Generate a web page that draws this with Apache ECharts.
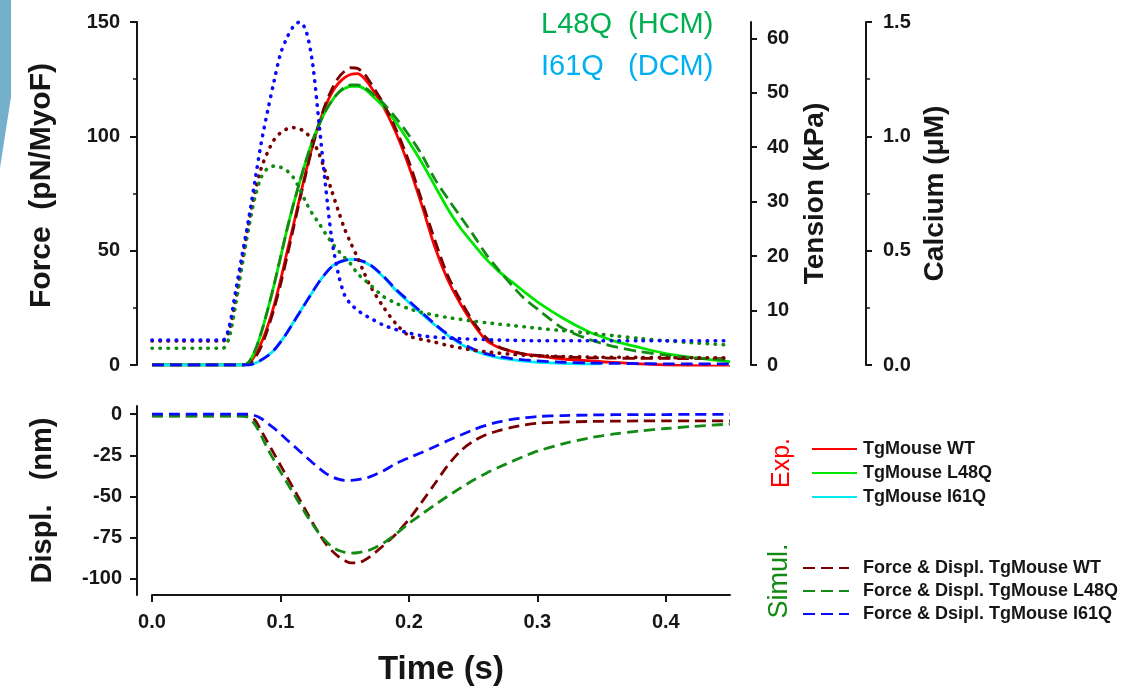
<!DOCTYPE html>
<html><head><meta charset="utf-8">
<script src="https://cdn.jsdelivr.net/npm/echarts@6/dist/echarts.min.js"></script>
<style>html,body{margin:0;padding:0;background:#fff}#c{width:1137px;height:692px}</style>
</head><body><div id="c"></div>
<script>
// ---- data ----
const time = [0,0.02,0.04,0.055,0.06,0.065,0.07,0.075,0.08,0.085,0.09,0.095,0.1,0.105,0.11,0.115,0.12,0.125,0.13,0.135,0.14,0.145,0.15,0.155,0.16,0.165,0.17,0.18,0.19,0.2,0.21,0.22,0.23,0.24,0.25,0.26,0.27,0.28,0.29,0.3,0.32,0.34,0.35,0.36,0.38,0.4,0.42,0.45];

// experimental tension (kPa)
const tensionWT = [0,0,0,0,0,0,0,0.2,1.7,4.0,7.1,10.9,15.5,20.6,25.6,30.7,35.7,40.3,44.3,47.5,50.0,51.7,52.8,53.4,53.5,52.7,51.2,47.5,42.6,36.5,29.4,21.8,15.8,11.3,7.6,4.6,3.2,2.5,2.0,1.7,1.1,0.8,0.6,0.5,0.2,0,-0.1,-0.3];
const tensionL48Q = [0,0,0,0,0,0,0,0.4,2.5,5.9,10.1,14.7,19.7,24.8,29.4,33.6,37.6,41.2,44.1,46.6,48.5,50.0,50.8,51.2,51.2,50.8,49.8,47.5,44.5,41.0,37.2,33.0,28.8,25.2,22.3,19.5,17.2,15.3,13.4,11.6,8.6,6.1,5.2,4.4,3.2,2.1,1.4,0.6];
const tensionI61Q = [0,0,0,0,0,0,0,0,0.3,0.9,1.7,2.7,4.2,5.9,7.8,9.7,11.6,13.4,15.2,16.8,18.1,18.8,19.2,19.4,19.3,18.9,18.3,16.2,13.7,11.5,9.4,7.4,5.5,3.9,2.7,1.9,1.3,1.0,0.7,0.5,0.3,0.2,0.2,null,null,null,null,null];

// simulated force (pN/MyoF)
const forceWT = [0,0,0,0,0,0,0,0.3,3,8,15.5,24.5,35,47,59.5,72,84,95.5,105.5,114,120.5,125.5,128.5,130,129.7,127.5,123.5,114.5,103,89,72,55,39.5,28.5,19,12,8,6,4.8,4.2,3.5,3.2,3.1,3,2.9,2.9,2.8,2.8];
const forceL48Q = [0,0,0,0,0,0,0,1,6,14,24,35,47,59,70,80,89.5,98,105,111,115.5,119,121.5,122.5,122.5,121.5,119.5,114.5,108,100.5,92,81.5,73,65,57,48.5,41.5,35,29,24.5,16,11.3,9.5,8,5.8,4.3,3.2,2.2];
const forceI61Q = [0,0,0,0,0,0,0,0,0.7,2.2,4,6.5,10,14,18.5,23,27.5,32,36.3,40,43,44.8,45.8,46.2,46,45.2,43.8,39,33,28,23,18,13.5,9.8,7,5,3.7,2.8,2.2,1.8,1.2,0.9,0.8,0.7,0.6,0.5,0.5,0.5];

// calcium transients (uM)
const calciumWT = [0.105,0.105,0.105,0.105,0.15,0.28,0.45,0.61,0.75,0.86,0.93,0.985,1.015,1.032,1.038,1.032,1.015,0.98,0.925,0.845,0.76,0.675,0.595,0.53,0.47,0.405,0.345,0.255,0.18,0.128,0.112,0.1,0.086,0.075,0.065,0.058,0.052,0.047,0.043,0.04,0.037,0.035,0.034,0.034,0.033,0.032,0.032,0.031];
const calciumL48Q = [0.073,0.073,0.073,0.073,0.12,0.26,0.43,0.59,0.73,0.82,0.86,0.87,0.865,0.85,0.82,0.77,0.71,0.66,0.62,0.575,0.535,0.5,0.47,0.44,0.4,0.375,0.35,0.3,0.27,0.246,0.23,0.218,0.208,0.2,0.192,0.185,0.179,0.173,0.167,0.161,0.15,0.14,0.134,0.128,0.116,0.106,0.098,0.087];
const calciumI61Q = [0.109,0.109,0.109,0.109,0.166,0.32,0.476,0.63,0.8,0.97,1.11,1.24,1.36,1.43,1.48,1.5,1.46,1.32,1.06,0.79,0.55,0.4,0.305,0.265,0.24,0.22,0.205,0.175,0.155,0.14,0.128,0.122,0.118,0.115,0.113,0.111,0.109,0.108,0.107,0.106,0.106,0.106,0.106,0.106,0.106,0.106,0.106,0.106];

// simulated displacement (nm)
const displWT = [-1,-1,-1,-1,-1,-1,-1,-1.2,-3.5,-10,-17,-24,-31,-38,-45,-52,-59,-66,-72.5,-78.5,-83,-86.5,-89,-90.5,-90.5,-89,-86.5,-80,-72.8,-64,-53.5,-42.5,-31.5,-22.5,-16.5,-12.5,-10,-8,-6.5,-5.5,-4.8,-4.4,-4.3,-4.2,-4.1,-4,-4,-4];
const displL48Q = [-1.2,-1.2,-1.2,-1.2,-1.2,-1.2,-1.2,-2,-6,-13,-21,-28,-35,-41.5,-48,-54.5,-61,-67,-72.5,-77,-80.5,-82.8,-84,-84.5,-84.3,-83.5,-82.5,-78.5,-72.8,-66.5,-60.8,-55.3,-50,-45,-40.2,-36,-32.3,-28.8,-25.5,-22.5,-18,-14.5,-13.2,-12,-10.2,-8.7,-7.5,-6];
const displI61Q = [0,0,0,0,0,0,0,0,-0.8,-2.6,-5.5,-8.5,-12,-15.5,-19,-22.5,-26,-29.5,-32.8,-35.8,-38,-39.5,-40.2,-40.2,-39.8,-39,-38,-34.5,-30,-26.5,-23.3,-19.8,-16.2,-12.8,-9.5,-6.8,-4.7,-3.2,-2.2,-1.4,-0.8,-0.5,-0.4,-0.3,-0.2,-0.2,-0.1,-0.1];

// tick labels
const forceTicks = [0,50,100,150];
const tensionTicks = [0,10,20,30,40,50,60];
const calciumTicks = [0,0.5,1.0,1.5];
const displTicks = [-100,-75,-50,-25,0];
const timeTicks = [0,0.1,0.2,0.3,0.4];

const expNames = ['TgMouse WT','TgMouse L48Q','TgMouse I61Q'];
const simNames = ['Force & Displ. TgMouse WT','Force & Displ. TgMouse L48Q','Force & Dsipl. TgMouse I61Q'];

// ---- chart ----
const FONT = "'Liberation Sans', Arial, sans-serif";
const INK = '#161616';
const lbl = (extra) => Object.assign({color:INK, fontSize:20, fontWeight:'bold', fontFamily:FONT}, extra||{});
const nameStyle = (size, extra) => Object.assign({color:INK, fontSize:size, fontWeight:'bold', fontFamily:FONT}, extra||{});
const aLine = {show:true, onZero:false, lineStyle:{color:INK, width:2}};
const tick = (extra) => Object.assign({show:true, length:7, lineStyle:{color:INK, width:2}}, extra||{});

function ser(name, vals, xi, yi, color, kind, z) {
  const type = kind === 'solid' ? 'solid' : (kind === 'dash' ? [12, 6] : (kind === 'dash2' ? [11, 6] : [0.5, 7.5]));
  return {
    type:'line', name, xAxisIndex:xi, yAxisIndex:yi,
    data: time.map((t, i) => [t, vals[i]]),
    symbol:'none', smooth:0.3, z,
    lineStyle:{color, width: kind === 'dot' ? 3.6 : 2.8, type, cap: kind === 'dot' ? 'round' : 'butt'},
    itemStyle:{color}, emphasis:{disabled:true}
  };
}

const C = {red:'#ff0000', lime:'#00e600', cyan:'#00eaf5', dred:'#7a0000', dgreen:'#138a13', blue:'#0a0aff'};

const option = {
  animation:false,
  backgroundColor:'#ffffff',
  grid:[
    {left:152, top:22, width:578, height:343},
    {left:152, top:406, width:578, height:189}
  ],
  xAxis:[
    {type:'value', gridIndex:0, min:0, max:0.45, show:false},
    {type:'value', gridIndex:1, min:0, max:0.45,
     axisLine:aLine, splitLine:{show:false},
     axisTick:tick({customValues:timeTicks, length:7}),
     axisLabel:lbl({customValues:timeTicks, margin:17, formatter:v => v.toFixed(1)}),
     name:'Time (s)', nameLocation:'middle', nameGap:58, nameTextStyle:nameStyle(33)}
  ],
  yAxis:[
    {type:'value', gridIndex:0, position:'left', offset:15, min:0, max:150, interval:50,
     axisLine:aLine, splitLine:{show:false},
     axisTick:tick({customValues:forceTicks}),
     minorTick:{show:true, splitNumber:2, length:4, lineStyle:{color:INK, width:1.5}},
     axisLabel:lbl({customValues:forceTicks, margin:17}),
     name:'Force  (pN/MyoF)', nameLocation:'middle', nameGap:80, nameTextStyle:nameStyle(30, {padding:[0,0,0,16]})},
    {type:'value', gridIndex:0, position:'right', offset:21, min:0, max:63,
     axisLine:aLine, splitLine:{show:false},
     axisTick:tick({customValues:tensionTicks, length:6}),
     axisLabel:lbl({customValues:tensionTicks, margin:16}),
     name:'Tension (kPa)', nameLocation:'middle', nameGap:50, nameTextStyle:nameStyle(28)},
    {type:'value', gridIndex:0, position:'right', offset:136, min:0, max:1.5, interval:0.5,
     axisLine:aLine, splitLine:{show:false},
     axisTick:tick({customValues:calciumTicks, length:6}),
     minorTick:{show:true, splitNumber:2, length:4, lineStyle:{color:INK, width:1.5}},
     axisLabel:lbl({customValues:calciumTicks, margin:17, formatter:v => v.toFixed(1)}),
     name:'Calcium (\u03bcM)', nameLocation:'middle', nameGap:55, nameTextStyle:nameStyle(28)},
    {type:'value', gridIndex:1, position:'left', offset:15, min:-110, max:5,
     axisLine:aLine, splitLine:{show:false},
     axisTick:tick({customValues:displTicks}),
     axisLabel:lbl({customValues:displTicks, margin:15}),
     name:'Displ.   (nm)', nameLocation:'middle', nameGap:80, nameTextStyle:nameStyle(29)}
  ],
  legend:[
    {data:expNames, orient:'vertical', left:806, top:435, itemWidth:45, itemHeight:12, itemGap:6,
     selectedMode:false, itemStyle:{opacity:0},
     textStyle:{color:INK, fontSize:18, fontWeight:'bold', fontFamily:FONT, padding:[0,0,0,1]}},
    {data:simNames, orient:'vertical', left:797, top:554, itemWidth:46, itemHeight:12, itemGap:5,
     selectedMode:false, itemStyle:{opacity:0},
     textStyle:{color:INK, fontSize:18, fontWeight:'bold', fontFamily:FONT, padding:[0,0,0,9]}}
  ],
  graphic:[
    {type:'polygon', shape:{points:[[0,0],[11,0],[11,97],[0,168]]}, style:{fill:'#74afcb'}, silent:true},
    {type:'text', x:541, y:25, style:{text:'L48Q  (HCM)', fill:'#00b050', font:'29px ' + FONT, align:'left', verticalAlign:'middle'}},
    {type:'text', x:541, y:67, style:{text:'I61Q   (DCM)', fill:'#00b0f0', font:'29px ' + FONT, align:'left', verticalAlign:'middle'}},
    {type:'text', x:782, y:463, rotation:Math.PI/2, style:{text:'Exp.', fill:'#ff0000', font:'25px ' + FONT, align:'center', verticalAlign:'middle'}},
    {type:'text', x:780, y:581, rotation:Math.PI/2, style:{text:'Simul.', fill:'#138a13', font:'27px ' + FONT, align:'center', verticalAlign:'middle'}}
  ],
  series:[
    ser(expNames[0], tensionWT, 0, 1, C.red, 'solid', 2),
    ser(expNames[1], tensionL48Q, 0, 1, C.lime, 'solid', 2),
    ser(expNames[2], tensionI61Q, 0, 1, C.cyan, 'solid', 2),
    ser(simNames[0], forceWT, 0, 0, C.dred, 'dash', 3),
    ser(simNames[1], forceL48Q, 0, 0, C.dgreen, 'dash', 3),
    ser(simNames[2], forceI61Q, 0, 0, C.blue, 'dash', 3),
    ser('Calcium WT', calciumWT, 0, 2, C.dred, 'dot', 4),
    ser('Calcium L48Q', calciumL48Q, 0, 2, C.dgreen, 'dot', 4),
    ser('Calcium I61Q', calciumI61Q, 0, 2, C.blue, 'dot', 5),
    ser(simNames[0], displWT, 1, 3, C.dred, 'dash2', 3),
    ser(simNames[1], displL48Q, 1, 3, C.dgreen, 'dash2', 3),
    ser(simNames[2], displI61Q, 1, 3, C.blue, 'dash2', 3)
  ]
};
const chart = echarts.init(document.getElementById('c'), null, {renderer:'canvas'});
chart.setOption(option);
</script>
</body></html>
